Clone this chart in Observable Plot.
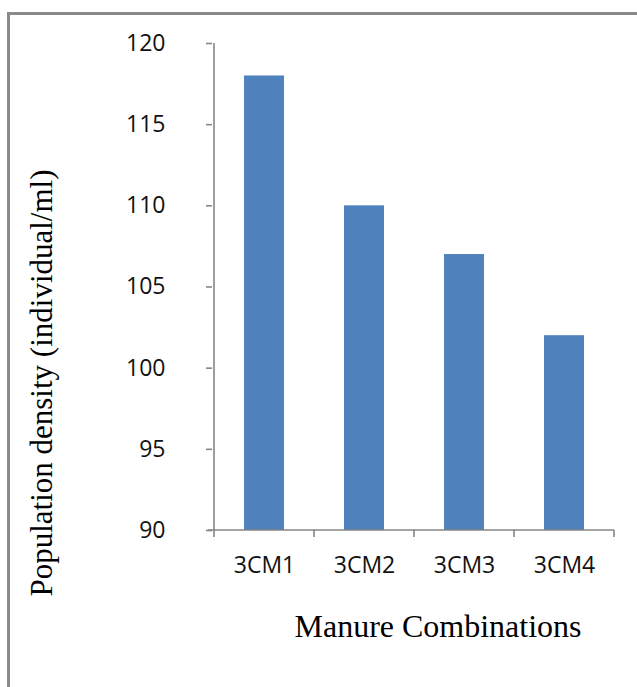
<!DOCTYPE html>
<html><head><meta charset="utf-8">
<script src="https://cdn.jsdelivr.net/npm/d3@7"></script>
<script src="https://cdn.jsdelivr.net/npm/@observablehq/plot@0.6"></script>
<style>
html,body{margin:0;padding:0;background:#fff;}
#wrap{position:relative;width:637px;height:687px;overflow:hidden;}
#chart{position:absolute;left:0;top:0;}
#border{position:absolute;left:7px;top:12px;width:700px;height:700px;border-top:3px solid #8a8a8a;border-left:3px solid #8a8a8a;box-sizing:border-box;pointer-events:none;}
</style></head><body>
<div id="wrap"><div id="chart"></div><div id="border"></div></div>
<script>
const categories = ["3CM1", "3CM2", "3CM3", "3CM4"];
const densities = [118, 110, 107, 102];
const yTicks = [90, 95, 100, 105, 110, 115, 120];
const yLabel = "Population density (individual/ml)";
const xLabel = "Manure Combinations";

const data = categories.map((c, i) => ({category: c, value: densities[i]}));
const axisColor = "#868686";
const textColor = "#111";

// axis lines + category-boundary ticks (Excel style), positions from the scales
const frameAxes = (index, scales) => {
  const x = scales.x, y = scales.y;
  const bw = x.bandwidth(), step = x.step();
  const centers = categories.map(c => x(c) + bw / 2);
  const bounds = [centers[0] - step / 2,
    ...centers.slice(1).map((v, i) => (centers[i] + v) / 2),
    centers[centers.length - 1] + step / 2];
  const yb = y(yTicks[0]), yt = y(yTicks[yTicks.length - 1]);
  const g = d3.create("svg:g").attr("stroke", axisColor).attr("stroke-width", 1.6).attr("fill", "none");
  g.append("line").attr("x1", bounds[0]).attr("x2", bounds[0]).attr("y1", yt).attr("y2", yb);
  g.append("line").attr("x1", bounds[0] - 6).attr("x2", bounds[bounds.length - 1]).attr("y1", yb).attr("y2", yb);
  for (const b of bounds) g.append("line").attr("x1", b).attr("x2", b).attr("y1", yb).attr("y2", yb + 7);
  return g.node();
};

const chart = Plot.plot({
  width: 637,
  height: 687,
  marginLeft: 212,
  marginRight: 22,
  marginTop: 43,
  marginBottom: 157,
  style: {fontFamily: "'Open Sans', sans-serif", fontSize: "23px", background: "white"},
  x: {domain: categories, paddingInner: 0.6, paddingOuter: 0.3},
  y: {domain: [yTicks[0], yTicks[yTicks.length - 1]]},
  marks: [
    Plot.barY(data, {x: "category", y1: yTicks[0], y2: "value", fill: "#4F81BD"}),
    Plot.axisY({ticks: yTicks, tickSize: 6, tickPadding: 41, stroke: axisColor, strokeWidth: 1.6, fill: textColor, fontSize: 23, label: null}),
    Plot.axisX({tickSize: 0, tickPadding: 26, fill: textColor, fontSize: 23, label: null}),
    frameAxes,
    Plot.text([yLabel], {frameAnchor: "left", textAnchor: "middle", lineAnchor: "middle", rotate: -90, dx: -170, dy: 96, fontSize: 31, fontFamily: "'Liberation Serif', 'Times New Roman', serif", fill: "#000"}),
    Plot.text([xLabel], {frameAnchor: "bottom", dx: 24, dy: 106, fontSize: 32, fontFamily: "'Liberation Serif', 'Times New Roman', serif", fill: "#000"})
  ]
});
document.getElementById("chart").appendChild(chart);
</script>
</body></html>
